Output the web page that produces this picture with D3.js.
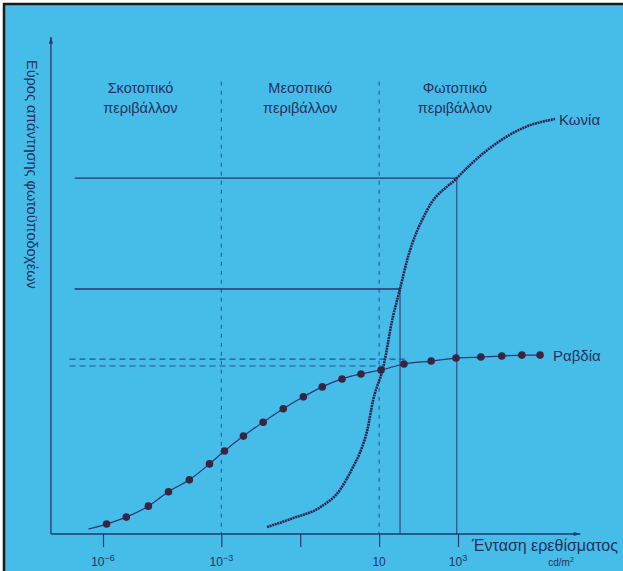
<!DOCTYPE html>
<html>
   <head>
      <meta charset="utf-8">
      <title>Εύρος απάντησης φωτοϋποδοχέων</title>
      <style>
         body {
         margin: 0;
         background: white;
         }
         text {
         font-family: "Liberation Sans", Arial, sans-serif;
         fill: #26305c;
         }
      </style>
      <script src="https://d3js.org/d3.v7.min.js"></script>
   </head>
   <body>
      <script>
         // size of the picture
         var w = 623;
         var h = 571;

         // stimulus intensity as log10(cd/m2), response in arbitrary units (0-100)
         var rodLineStart = [-6.37, 1.0];
         var rodLogI = [-5.91, -5.41, -4.85, -4.34, -3.81, -3.30, -2.92, -2.44, -1.94, -1.43,
                        -0.92, -0.44, 0.06, 0.54, 1.05, 1.63, 2.32, 2.95, 3.58, 4.11, 4.62, 5.08];
         var rodResp = [2.0, 3.4, 5.6, 8.5, 10.9, 14.1, 16.7, 19.7, 22.5, 25.2,
                        27.6, 29.6, 31.2, 32.2, 33.0, 34.2, 34.8, 35.4, 35.6, 35.8, 36.0, 36.0];

         var coneLogI = [-1.84, -1.18, -0.49, 0.01, 0.34, 0.52, 0.70, 0.85, 1.10, 1.35,
                         1.53, 1.71, 2.22, 2.97, 3.38, 3.99, 4.65, 5.46];
         var coneResp = [1.4, 3.2, 5.4, 8.9, 13.5, 16.5, 20.9, 27.0, 33.4, 43.7,
                         49.3, 55.1, 65.2, 71.6, 74.8, 78.7, 81.7, 83.5];

         // x axis ticks
         var tickLogs = [-6, -3, -1, 1, 3];
         var tickBase = ["10", "10", "", "10", "10"];
         var tickSup = ["\u22126", "\u22123", "", "", "3"];

         // solid reading lines: level, where they end (log intensity)
         var refLevels = [71.6, 49.3];
         var refEnds = [2.97, 1.53];
         var refStart = -6.72;

         // dashed reading lines
         var dashLevels = [35.2, 33.8];
         var dashEnds = [1.65, 1.08];
         var dashStart = -6.85;

         // borders between lighting regions
         var regionBounds = [-3, 1];
         var regionTop = 91;
         var regionNames = ["Σκοτοπικό", "Μεσοπικό", "Φωτοπικό"];
         var regionCenters = [-5.05, -1.0, 2.92];

         var axisMinLog = -7.32;
         var axisMaxLog = 6.1;

         var x = d3.scaleLog().domain([1e-6, 1e3]).range([103, 458]);
         var y = d3.scaleLinear().domain([0, 100]).range([534, 37]);
         function xl(v) { return x(Math.pow(10, v)); }

         var svg = d3.select("body").append("svg")
                     .attr("width", w)
                     .attr("height", h);

         // background with dark edge
         svg.append("rect")
            .attr("x", 4).attr("y", 4)
            .attr("width", w).attr("height", h)
            .attr("fill", "#46bde9")
            .attr("stroke", "#1a1a1a")
            .attr("stroke-width", 2.5);

         // arrow head marker
         svg.append("defs").append("marker")
            .attr("id", "arrow")
            .attr("viewBox", "0 0 10 6")
            .attr("refX", 10).attr("refY", 3)
            .attr("markerWidth", 10).attr("markerHeight", 4)
            .attr("markerUnits", "userSpaceOnUse")
            .attr("orient", "auto")
            .append("path")
            .attr("d", "M0,0 L10,3 L0,6 Z")
            .attr("fill", "#2b3470");

         // dashed region borders
         svg.selectAll(".bound")
            .data(regionBounds)
            .enter()
            .append("line")
            .attr("x1", function(d) { return xl(d); })
            .attr("x2", function(d) { return xl(d); })
            .attr("y1", y(regionTop))
            .attr("y2", y(0))
            .attr("stroke", "#2e4f92")
            .attr("stroke-width", 1)
            .attr("stroke-dasharray", "4,5");

         // solid horizontal reading lines
         refLevels.forEach(function(lv, i) {
           svg.append("line")
              .attr("x1", xl(refStart)).attr("x2", xl(refEnds[i]))
              .attr("y1", y(lv)).attr("y2", y(lv))
              .attr("stroke", "#2b3470").attr("stroke-width", 1.3);
           svg.append("line")
              .attr("x1", xl(refEnds[i])).attr("x2", xl(refEnds[i]))
              .attr("y1", y(lv)).attr("y2", y(0))
              .attr("stroke", "#2b3470").attr("stroke-width", 1);
         });

         // dashed horizontal reading lines
         dashLevels.forEach(function(lv, i) {
           svg.append("line")
              .attr("x1", xl(dashStart)).attr("x2", xl(dashEnds[i]))
              .attr("y1", y(lv)).attr("y2", y(lv))
              .attr("stroke", "#2e4f92").attr("stroke-width", 1.2)
              .attr("stroke-dasharray", "6,4");
         });

         // rods curve
         var rodPts = [rodLineStart].concat(rodLogI.map(function(d, i) { return [d, rodResp[i]]; }));
         var line = d3.line()
                      .x(function(d) { return xl(d[0]); })
                      .y(function(d) { return y(d[1]); })
                      .curve(d3.curveMonotoneX);

         svg.append("path")
            .attr("d", line(rodPts))
            .attr("fill", "none")
            .attr("stroke", "#2b3470")
            .attr("stroke-width", 1.2);

         svg.selectAll(".rod")
            .data(rodLogI)
            .enter()
            .append("circle")
            .attr("cx", function(d) { return xl(d); })
            .attr("cy", function(d, i) { return y(rodResp[i]); })
            .attr("r", 3.8)
            .attr("fill", "#3a2442");

         // cones curve, dotted look
         var conePts = coneLogI.map(function(d, i) { return [d, coneResp[i]]; });
         svg.append("path")
            .attr("d", line(conePts))
            .attr("fill", "none")
            .attr("stroke", "#2a2550")
            .attr("stroke-width", 2.6)
            .attr("stroke-dasharray", "2,0.7");

         // axes with arrows
         svg.append("line")
            .attr("x1", xl(axisMinLog)).attr("x2", xl(axisMinLog))
            .attr("y1", y(0)).attr("y2", y(100))
            .attr("stroke", "#2b3470").attr("stroke-width", 1.3)
            .attr("marker-end", "url(#arrow)");
         svg.append("line")
            .attr("x1", xl(axisMinLog)).attr("x2", xl(axisMaxLog))
            .attr("y1", y(0)).attr("y2", y(0))
            .attr("stroke", "#2b3470").attr("stroke-width", 1.6)
            .attr("marker-end", "url(#arrow)");

         var xAxis = svg.append("g")
            .attr("transform", "translate(0," + y(0) + ")")
            .call(d3.axisBottom(x)
                     .tickValues(tickLogs.map(function(d) { return Math.pow(10, d); }))
                     .tickSize(13)
                     .tickSizeOuter(0)
                     .tickFormat(""));
         xAxis.select(".domain").remove();
         xAxis.selectAll(".tick line")
              .attr("stroke", "#2b3470")
              .attr("stroke-width", 1.2);

         // tick labels with superscripts
         tickLogs.forEach(function(d, i) {
           var t = svg.append("text")
                      .attr("x", xl(d))
                      .attr("y", 566)
                      .attr("text-anchor", "middle")
                      .style("font-size", "12px");
           t.append("tspan").text(tickBase[i]);
           if (tickSup[i] != "") {
             t.append("tspan")
              .attr("dy", -5)
              .style("font-size", "9px")
              .text(tickSup[i]);
           }
         });

         // axis titles
         svg.append("text")
            .attr("x", 472)
            .attr("y", 551)
            .style("font-size", "16px")
            .text("Ένταση ερεθίσματος");

         var unit = svg.append("text")
            .attr("x", 561)
            .attr("y", 566)
            .attr("text-anchor", "middle")
            .style("font-size", "10px");
         unit.append("tspan").text("cd/m");
         unit.append("tspan").attr("dy", -4).style("font-size", "7px").text("2");

         svg.append("text")
            .attr("transform", "translate(27,60) rotate(90)")
            .style("font-size", "14.5px")
            .text("Εύρος απάντησης φωτοϋποδοχέων");

         // region labels
         regionNames.forEach(function(name, i) {
           var t = svg.append("text")
                      .attr("x", xl(regionCenters[i]))
                      .attr("y", 93)
                      .attr("text-anchor", "middle")
                      .style("font-size", "14.5px");
           t.append("tspan").text(name);
           t.append("tspan")
            .attr("x", xl(regionCenters[i]))
            .attr("dy", 20)
            .text("περιβάλλον");
         });

         // curve names
         svg.append("text")
            .attr("x", xl(coneLogI[coneLogI.length - 1]) + 4)
            .attr("y", y(coneResp[coneResp.length - 1]) + 6)
            .style("font-size", "15px")
            .text("Κωνία");

         svg.append("text")
            .attr("x", xl(rodLogI[rodLogI.length - 1]) + 13)
            .attr("y", y(rodResp[rodResp.length - 1]) + 6)
            .style("font-size", "15px")
            .text("Ραβδία");
      </script>
   </body>
</html>
